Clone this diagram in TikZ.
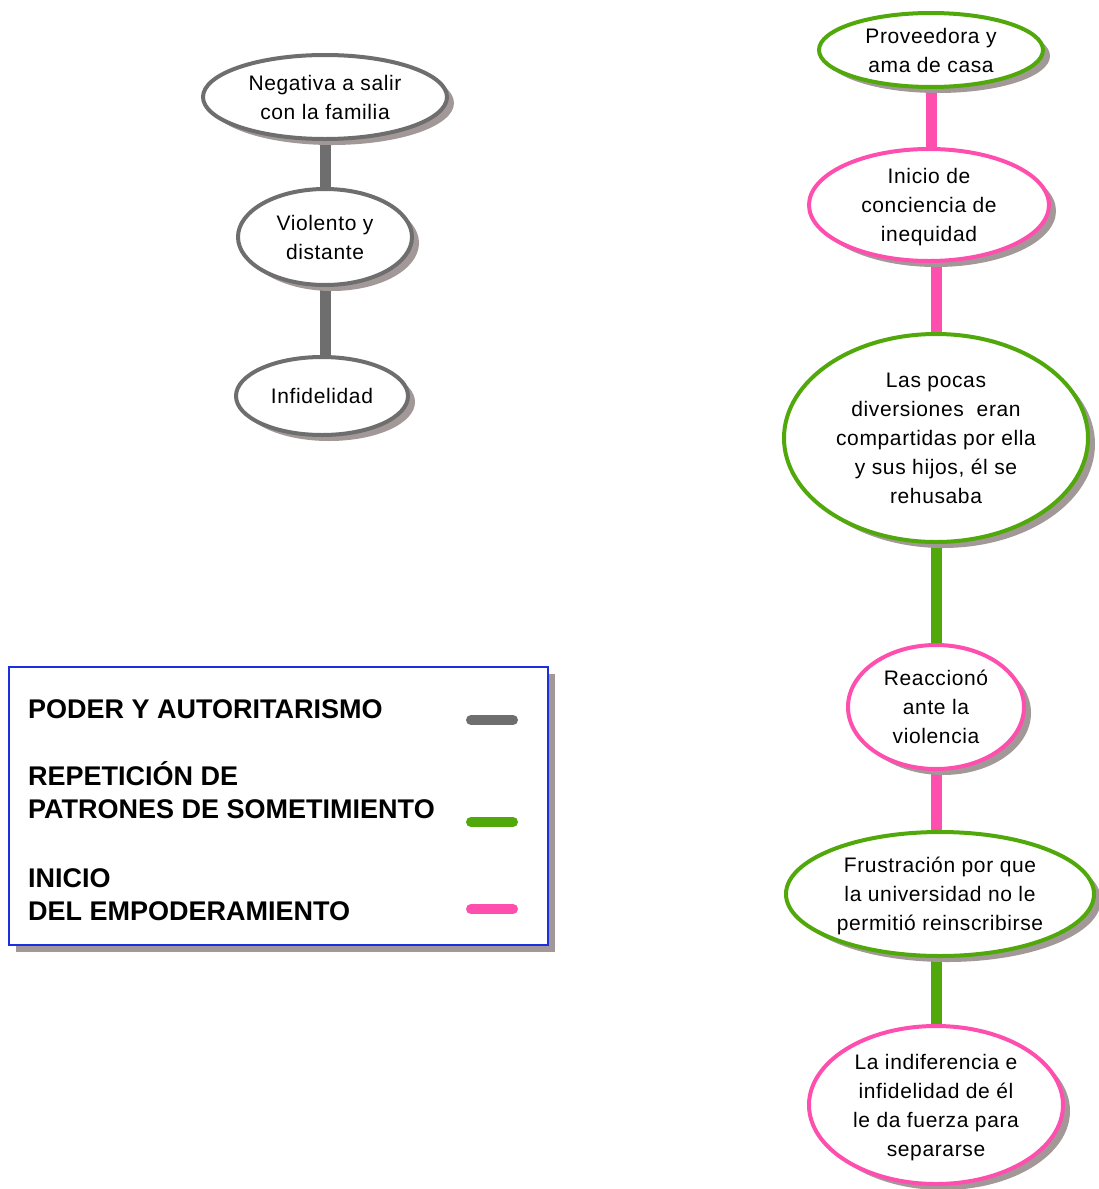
\documentclass[tikz,border=0pt]{standalone}
\usepackage{fontspec}
\setmainfont{Liberation Sans}
\newfontfamily\ovalfont[LetterSpace=3]{Liberation Sans}
\usetikzlibrary{shapes.geometric,shadows,backgrounds}

\definecolor{poder}{HTML}{6E6E6E}
\definecolor{patron}{HTML}{50A80A}
\definecolor{empod}{HTML}{FF4FAE}
\definecolor{shade}{HTML}{A29898}
\definecolor{legblue}{HTML}{1A30E0}

\tikzset{
  oval/.style={ellipse, draw, line width=4pt, fill=white, inner sep=0pt,
    align=center, text depth=0pt, font=\ovalfont\fontsize{21}{29}\selectfont,
    drop shadow={shadow xshift=7pt, shadow yshift=-6pt, fill=shade, opacity=1}},
  size/.style 2 args={minimum width=#1pt, minimum height=#2pt},
  link/.style={line width=11pt},
  legtext/.style={anchor=base west, inner sep=0pt,
    font=\bfseries\fontsize{27}{33}\selectfont},
  swatch/.style={line width=10pt, line cap=round},
}

\begin{document}
\begin{tikzpicture}[x=1pt, y=-1pt]
  \useasboundingbox (0,0) rectangle (1099,1189);

  % Poder y autoritarismo
  \node[oval, draw=poder, size={244}{84}] (neg) at (325,97) {Negativa a salir\\con la familia};
  \node[oval, draw=poder, size={174}{96}] (vio) at (325,237) {Violento y\\distante};
  \node[oval, draw=poder, size={172}{78}] (inf) at (322,396) {Infidelidad};

  % Trayectoria de ella
  \node[oval, draw=patron, size={224}{74}] (prov) at (931,50) {Proveedora y\\ama de casa};
  \node[oval, draw=empod, size={240}{112}] (conc) at (929,205) {Inicio de\\conciencia de\\inequidad};
  \node[oval, draw=patron, size={304}{208}] (div) at (936,438)
    {Las pocas\\diversiones\ \ eran\\compartidas por ella\\y sus hijos, él se\\rehusaba};
  \node[oval, draw=empod, size={176}{124}] (reac) at (936,707) {Reaccionó\\ante la\\violencia};
  \node[oval, draw=patron, size={308}{124}] (frus) at (940,894)
    {Frustración por que\\la universidad no le\\permitió reinscribirse};
  \node[oval, draw=empod, size={254}{158}] (indif) at (936,1105)
    {La indiferencia e\\infidelidad de él\\le da fuerza para\\separarse};

  \begin{scope}[on background layer]
    \draw[link, poder] (neg.center) -- (vio.center);
    \draw[link, poder] (vio.center) -- (vio.center |- inf.center);
    \draw[link, empod] (prov.center) -- (prov.center |- conc.center);
    \draw[link, empod] (div.center |- conc.center) -- (div.center);
    \draw[link, patron] (reac.center |- div.center) -- (reac.center);
    \draw[link, empod] (reac.center) -- (reac.center |- frus.center);
    \draw[link, patron] (indif.center |- frus.center) -- (indif.center);
  \end{scope}

  % Leyenda
  \node[draw=legblue, line width=1.6pt, fill=white, inner sep=0pt,
        size={539}{278},
        drop shadow={shadow xshift=7pt, shadow yshift=-7pt, fill=shade, opacity=1}]
        (legend) at (278.5,806) {};
  \node[legtext] (lg1) at (28,718) {PODER Y AUTORITARISMO};
  \node[legtext] (lg2) at (28,785) {REPETICIÓN DE};
  \node[legtext] (lg3) at (28,818) {PATRONES DE SOMETIMIENTO};
  \node[legtext] (lg4) at (28,887) {INICIO};
  \node[legtext] (lg5) at (28,920) {DEL EMPODERAMIENTO};

  \coordinate (s1a) at (471,720); \coordinate (s1b) at (513,720);
  \coordinate (s2a) at (471,822); \coordinate (s2b) at (513,822);
  \coordinate (s3a) at (471,909); \coordinate (s3b) at (513,909);
  \draw[swatch, poder] (s1a) -- (s1b);
  \draw[swatch, patron] (s2a) -- (s2b);
  \draw[swatch, empod] (s3a) -- (s3b);
\end{tikzpicture}
\end{document}
